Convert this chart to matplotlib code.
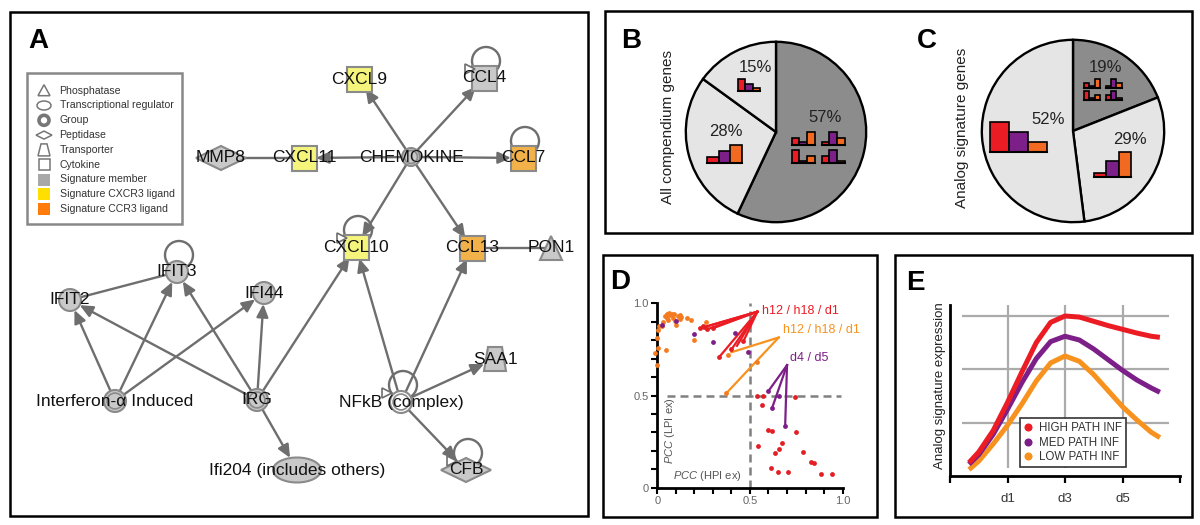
import matplotlib.pyplot as plt
from matplotlib.patches import Rectangle, Circle, Ellipse, Polygon, FancyArrowPatch
from matplotlib.lines import Line2D

plt.rcParams['font.family'] = ['Liberation Sans', 'DejaVu Sans']
plt.rcParams['mathtext.fontset'] = 'custom'
plt.rcParams['mathtext.rm'] = 'Liberation Sans'
plt.rcParams['mathtext.it'] = 'Liberation Sans:italic'

RED = '#EC1C24'
PURPLE = '#7D1F88'
ORANGE = '#F7921E'
ORANGE_PT = '#F47B20'
DARK = '#8C8C8C'
LIGHT = '#E5E5E5'

# ---------------- panel A : network (positions in pixels) ----------------
node_names = ['CHEMOKINE', 'CXCL9', 'CCL4', 'MMP8', 'CXCL11', 'CCL7', 'CXCL10', 'CCL13', 'PON1',
              'IFIT3', 'IFIT2', 'IFI44', 'Interferon-α Induced', 'IRG', 'NFkB (complex)',
              'SAA1', 'Ifi204 (includes others)', 'CFB']
node_x = [411, 359, 484, 221, 304, 523, 356, 472, 551, 177, 70, 264, 115, 257, 401, 495, 297, 466]
node_y = [157, 79, 78, 158, 158, 158, 247, 248, 248, 272, 300, 293, 401, 400, 402, 359, 470, 470]
node_shape = ['group', 'square', 'square', 'diamond', 'square', 'square', 'square', 'square', 'triangle',
              'circle', 'circle', 'circle', 'group', 'group', 'group', 'trapezoid', 'ellipse', 'diamond']
node_fill = ['grey', 'yellow', 'grey', 'grey', 'yellow', 'orange', 'yellow', 'orange', 'grey',
             'grey', 'grey', 'grey', 'grey', 'grey', 'white', 'grey', 'grey', 'grey']
node_size = [9, 12, 12, 14, 12, 12, 12, 12, 12, 11, 11, 11, 11, 11, 11, 12, 14, 14]

edge_src = ['CHEMOKINE', 'CHEMOKINE', 'CHEMOKINE', 'CHEMOKINE', 'CHEMOKINE', 'CHEMOKINE',
            'CXCL11', 'CCL13', 'IFIT3',
            'Interferon-α Induced', 'Interferon-α Induced', 'Interferon-α Induced',
            'IRG', 'IRG', 'IRG', 'IRG', 'IRG',
            'NFkB (complex)', 'NFkB (complex)', 'NFkB (complex)', 'NFkB (complex)']
edge_dst = ['CXCL9', 'CCL4', 'CXCL11', 'CCL7', 'CXCL10', 'CCL13',
            'MMP8', 'PON1', 'IFIT2',
            'IFIT2', 'IFIT3', 'IFI44',
            'IFIT2', 'IFIT3', 'IFI44', 'CXCL10', 'Ifi204 (includes others)',
            'CXCL10', 'CCL13', 'SAA1', 'CFB']
edge_arrow = [1, 1, 1, 1, 1, 1, 0, 0, 0, 1, 1, 1, 1, 1, 1, 1, 1, 1, 1, 1, 1]

loop_nodes = ['CCL4', 'CCL7', 'CXCL10', 'IFIT3', 'NFkB (complex)', 'CFB']
loop_open_head = [1, 0, 1, 0, 1, 1]

legend_a_labels = ['Phosphatase', 'Transcriptional regulator', 'Group', 'Peptidase', 'Transporter',
                   'Cytokine', 'Signature member', 'Signature CXCR3 ligand', 'Signature CCR3 ligand']
legend_a_symbols = ['triangle', 'ellipse', 'ring', 'diamond', 'trapezoid', 'square',
                    'grey_box', 'yellow_box', 'orange_box']

# ---------------- panels B / C : pies ----------------
pie_b_values = [57, 28, 15]
pie_b_colors = [DARK, LIGHT, LIGHT]
pie_b_labels = ['57%', '28%', '15%']
pie_c_values = [19, 29, 52]
pie_c_colors = [DARK, LIGHT, LIGHT]
pie_c_labels = ['19%', '29%', '52%']

# mini bar icons: relative bar heights (red, purple, orange)
icon_falling = [1.0, 0.6, 0.25]
icon_rising = [0.33, 0.67, 1.0]
icon_big_falling = [1.0, 0.67, 0.33]
icon_big_rising = [0.16, 0.64, 1.0]
icon_mixed = [[0.55, 0.2, 1.0], [0.2, 1.0, 0.55], [1.0, 0.2, 0.55], [0.55, 1.0, 0.2]]

# ---------------- panel D : scatter ----------------
orange_x = [-0.01, 0.0, 0.005, 0.0, 0.005, 0.01, 0.045, 0.03, 0.04, 0.05, 0.055, 0.065, 0.07, 0.08,
            0.085, 0.09, 0.095, 0.1, 0.11, 0.12, 0.125, 0.13, 0.16, 0.18, 0.2, 0.265, 0.38, 0.372,
            0.54, 0.06, 0.025]
orange_y = [0.73, 0.665, 0.76, 0.815, 0.855, 0.875, 0.745, 0.9, 0.93, 0.945, 0.92, 0.95, 0.935, 0.945,
            0.92, 0.94, 0.905, 0.885, 0.93, 0.935, 0.915, 0.925, 0.92, 0.91, 0.8, 0.9, 0.72, 0.512,
            0.68, 0.91, 0.88]
purple_x = [0.025, 0.1, 0.2, 0.3, 0.42, 0.49, 0.6, 0.62, 0.69, 0.655]
purple_y = [0.885, 0.905, 0.835, 0.79, 0.84, 0.735, 0.525, 0.434, 0.336, 0.5]
red_x = [0.23, 0.25, 0.27, 0.3, 0.245, 0.335, 0.40, 0.465, 0.54, 0.572, 0.563, 0.743, 0.545, 0.599,
         0.617, 0.635, 0.658, 0.671, 0.748, 0.788, 0.827, 0.845, 0.613, 0.65, 0.703, 0.881, 0.94]
red_y = [0.865, 0.87, 0.86, 0.865, 0.875, 0.71, 0.75, 0.795, 0.5, 0.5, 0.448, 0.49, 0.226, 0.313,
         0.307, 0.19, 0.21, 0.244, 0.304, 0.192, 0.141, 0.132, 0.105, 0.087, 0.087, 0.072, 0.072]

red_hub = (0.54, 0.955)
red_ends_x = [0.23, 0.25, 0.27, 0.3, 0.335, 0.40, 0.43, 0.465]
red_ends_y = [0.865, 0.87, 0.86, 0.865, 0.71, 0.75, 0.77, 0.795]
orange_hub = (0.655, 0.815)
orange_ends_x = [0.40, 0.372]
orange_ends_y = [0.735, 0.512]
purple_hub = (0.70, 0.665)
purple_ends_x = [0.6, 0.62, 0.69]
purple_ends_y = [0.525, 0.434, 0.336]

# ---------------- panel E : curves ----------------
days = [-0.34, 0, 0.5, 1, 1.5, 2, 2.5, 3, 3.5, 4, 4.5, 5, 5.5, 6, 6.3]
high = [0.25, 0.45, 0.85, 1.38, 1.95, 2.5, 2.88, 3.0, 2.98, 2.9, 2.82, 2.75, 2.68, 2.62, 2.6]
med = [0.22, 0.4, 0.78, 1.25, 1.75, 2.2, 2.52, 2.62, 2.55, 2.38, 2.18, 1.98, 1.8, 1.65, 1.57]
low = [0.12, 0.28, 0.6, 0.95, 1.35, 1.78, 2.12, 2.25, 2.15, 1.9, 1.6, 1.3, 1.05, 0.82, 0.72]
e_tick_pos = [-1, 1, 3, 5, 7]
e_tick_labels = ['', 'd1', 'd3', 'd5', '']


fig = plt.figure(figsize=(12, 5.25), dpi=100)


def px_axes(x0, y0, x1, y1, **kw):
    return fig.add_axes([x0 / 1200, 1 - y1 / 525, (x1 - x0) / 1200, (y1 - y0) / 525], **kw)


# whole-figure axes in pixel units for the network
base = fig.add_axes([0, 0, 1, 1])
base.set_xlim(0, 1200)
base.set_ylim(525, 0)
base.axis('off')

fills = {'grey': '#C9C9C9', 'yellow': '#F5F57C', 'orange': '#F2B249', 'white': 'white'}
EDGE = '#8A8A8A'
LINE = '#6E6E6E'
pos = {n: (x, y) for n, x, y in zip(node_names, node_x, node_y)}
size = dict(zip(node_names, node_size))

# edges
for s, d, a in zip(edge_src, edge_dst, edge_arrow):
    style = '-|>,head_length=0.55,head_width=0.25' if a else '-'
    arr = FancyArrowPatch(pos[s], pos[d], arrowstyle=style, mutation_scale=14, color=LINE,
                          lw=1.7, shrinkA=size[s] * 0.72, shrinkB=size[d] * 0.72 if a else 0,
                          zorder=1)
    base.add_patch(arr)

# self loops
for n, head in zip(loop_nodes, loop_open_head):
    x, y = pos[n]
    cx, cy, r = x + 2, y - 17, 14
    base.add_patch(Circle((cx, cy), r, fill=False, ec=LINE, lw=1.7, zorder=1))
    if head:
        lx = cx - r
        base.add_patch(Polygon([(lx - 7, cy + 3), (lx - 7, cy + 13), (lx + 3, cy + 8)],
                               closed=True, fc='white', ec=LINE, lw=1.2, zorder=2.5))

# nodes
for n, x, y, shp, f in zip(node_names, node_x, node_y, node_shape, node_fill):
    fc = fills[f]
    kw = dict(fc=fc, ec=EDGE, lw=1.5, zorder=2)
    if shp == 'square':
        base.add_patch(Rectangle((x - 12.5, y - 12.5), 25, 25, **kw))
    elif shp == 'circle':
        base.add_patch(Circle((x, y), 11, **kw))
    elif shp == 'group':
        r = size[n]
        base.add_patch(Circle((x, y), r, **kw))
        base.add_patch(Circle((x, y), r * 0.72, fill=False, ec=EDGE, lw=1.2, zorder=2))
    elif shp == 'diamond':
        base.add_patch(Polygon([(x - 25, y), (x, y - 12), (x + 25, y), (x, y + 12)], **kw))
    elif shp == 'triangle':
        base.add_patch(Polygon([(x - 11, y + 12), (x, y - 12), (x + 11, y + 12)], **kw))
    elif shp == 'trapezoid':
        base.add_patch(Polygon([(x - 11, y + 12), (x - 7, y - 12), (x + 7, y - 12), (x + 11, y + 12)], **kw))
    elif shp == 'ellipse':
        base.add_patch(Ellipse((x, y), 48, 25, **kw))
    base.text(x, y, n, ha='center', va='center', fontsize=12.5, color='#111111', zorder=3)

# legend of panel A
base.add_patch(Rectangle((27, 73), 155, 151, fill=False, ec='#888888', lw=1.8, zorder=2))
for i, (lab, sym) in enumerate(zip(legend_a_labels, legend_a_symbols)):
    y = 90.7 + i * 14.8
    x = 44
    kw = dict(fc='white', ec='#777777', lw=1.1, zorder=3)
    if sym == 'triangle':
        base.add_patch(Polygon([(x - 6, y + 5), (x, y - 6), (x + 6, y + 5)], **kw))
    elif sym == 'ellipse':
        base.add_patch(Ellipse((x, y), 14, 9, **kw))
    elif sym == 'ring':
        base.add_patch(Circle((x, y), 5, fc='white', ec='#777777', lw=2.6, zorder=3))
    elif sym == 'diamond':
        base.add_patch(Polygon([(x - 8, y), (x, y - 4), (x + 8, y), (x, y + 4)], **kw))
    elif sym == 'trapezoid':
        base.add_patch(Polygon([(x - 6, y + 6), (x - 3, y - 6), (x + 3, y - 6), (x + 6, y + 6)], **kw))
    elif sym == 'square':
        base.add_patch(Rectangle((x - 5.5, y - 5.5), 11, 11, **kw))
    else:
        c = {'grey_box': '#A8A8A8', 'yellow_box': '#FFDF00', 'orange_box': '#FF7B0A'}[sym]
        base.add_patch(Rectangle((x - 6, y - 6), 12, 12, fc=c, ec='none', zorder=3))
    base.text(59.5, y, lab, ha='left', va='center', fontsize=7.6, color='#333333', zorder=3)

# ---------------- pies ----------------
axb = px_axes(684, 40, 868, 224)
axb.pie(pie_b_values, colors=pie_b_colors, startangle=90, counterclock=False,
        wedgeprops=dict(edgecolor='black', linewidth=1.7))
axb.set_xlim(-1.02, 1.02)
axb.set_ylim(-1.02, 1.02)

axc = px_axes(980, 38, 1166, 224)
axc.pie(pie_c_values, colors=pie_c_colors, startangle=90, counterclock=False,
        wedgeprops=dict(edgecolor='black', linewidth=1.7))
axc.set_xlim(-1.02, 1.02)
axc.set_ylim(-1.02, 1.02)

# ---------------- panel D ----------------
axd = px_axes(648.0, 294.2, 851.9, 496.9)
axd.set_xlim(-0.05, 1.05)
axd.set_ylim(-0.05, 1.05)
axd.patch.set_alpha(0)
for s in ['top', 'right']:
    axd.spines[s].set_visible(False)
axd.spines['left'].set_position(('data', 0))
axd.spines['left'].set_bounds(0, 1)
axd.spines['bottom'].set_position(('data', 0))
axd.spines['bottom'].set_bounds(0, 1)
for s in ['left', 'bottom']:
    axd.spines[s].set_linewidth(2)
axd.set_xticks([0, 0.5, 1.0])
axd.set_xticklabels(['0', '0.5', '1.0'])
axd.set_yticks([0, 0.5, 1.0])
axd.set_yticklabels(['0', '0.5', '1.0'])
minor = [0.1, 0.2, 0.3, 0.4, 0.6, 0.7, 0.8, 0.9]
axd.set_xticks(minor, minor=True)
axd.set_yticks(minor, minor=True)
axd.tick_params(which='both', direction='out', length=4, width=1.5, labelsize=8, labelcolor='#666666',
                pad=2)
axd.plot([0.05, 0.99], [0.5, 0.5], color='#808080', lw=1.8, dashes=(3.2, 2), zorder=1)
axd.plot([0.5, 0.5], [0.0, 1.0], color='#808080', lw=1.8, dashes=(3.2, 2), zorder=1)
for ex, ey in zip(red_ends_x, red_ends_y):
    axd.plot([red_hub[0], ex], [red_hub[1], ey], color=RED, lw=1.6, zorder=2)
for ex, ey in zip(orange_ends_x, orange_ends_y):
    axd.plot([orange_hub[0], ex], [orange_hub[1], ey], color=ORANGE, lw=1.6, zorder=2)
for ex, ey in zip(purple_ends_x, purple_ends_y):
    axd.plot([purple_hub[0], ex], [purple_hub[1], ey], color=PURPLE, lw=1.6, zorder=2)
axd.scatter(orange_x, orange_y, s=12, color=ORANGE_PT, lw=0, zorder=3, clip_on=False)
axd.scatter(red_x, red_y, s=12, color='#E31E24', lw=0, zorder=3, clip_on=False)
axd.scatter(purple_x, purple_y, s=12, color=PURPLE, lw=0, zorder=3, clip_on=False)
axd.text(0.565, 0.958, 'h12 / h18 / d1', color=RED, fontsize=9, va='center', ha='left')
axd.text(0.678, 0.855, 'h12 / h18 / d1', color=ORANGE, fontsize=9, va='center', ha='left', clip_on=False)
axd.text(0.716, 0.704, 'd4 / d5', color=PURPLE, fontsize=9, va='center', ha='left')
axd.text(0.085, 0.063, r'$\mathit{PCC}$ (HPI ex)', color='#555555', fontsize=8, va='center', ha='left')
axd.text(0.07, 0.31, r'$\mathit{PCC}$ (LPI ex)', color='#555555', fontsize=8, va='center', ha='center',
         rotation=90)

# ---------------- panel E ----------------
axe = px_axes(944.25, 300, 1185.75, 484)
axe.set_xlim(-1.2, 7.2)
axe.set_ylim(-0.15, 3.3)
axe.patch.set_alpha(0)
for s in ['top', 'right']:
    axe.spines[s].set_visible(False)
axe.spines['left'].set_position(('data', -1))
axe.spines['left'].set_bounds(0, 3.2)
axe.spines['bottom'].set_position(('data', 0))
axe.spines['bottom'].set_bounds(-1, 7)
for s in ['left', 'bottom']:
    axe.spines[s].set_linewidth(2)
axe.set_yticks([])
axe.set_xticks(e_tick_pos)
axe.set_xticklabels(e_tick_labels)
axe.tick_params(axis='x', direction='out', length=5, width=1.6, labelsize=9.5, labelcolor='#333333', pad=7)
axe.vlines([1, 3, 5], 0.15, 3.2, colors='#ABABAB', lw=1.6, zorder=1)
axe.hlines([1, 2, 3], -0.6, 6.6, colors='#ABABAB', lw=1.6, zorder=1)
axe.plot(days, low, color=ORANGE, lw=3.6, solid_capstyle='butt', solid_joinstyle='round', zorder=2)
axe.plot(days, med, color=PURPLE, lw=3.6, solid_capstyle='butt', solid_joinstyle='round', zorder=2)
axe.plot(days, high, color=RED, lw=3.6, solid_capstyle='butt', solid_joinstyle='round', zorder=2)
handles = [Line2D([], [], ls='', marker='o', markersize=4.8, color=c) for c in (RED, PURPLE, ORANGE)]
leg = axe.legend(handles, ['HIGH PATH INF', 'MED PATH INF', 'LOW PATH INF'], loc='lower left',
                 bbox_to_anchor=(0.313, 0.093), borderaxespad=0, fontsize=8.3, fancybox=False,
                 framealpha=1, edgecolor='#333333', handlelength=0.8, handletextpad=0.5,
                 borderpad=0.35, labelspacing=0.2)
leg.get_frame().set_linewidth(1.2)
for t in leg.get_texts():
    t.set_color('#333333')

# ---------------- overlay: frames, letters, pie texts, icons ----------------
top = fig.add_axes([0, 0, 1, 1], zorder=10, label='overlay')
top.set_xlim(0, 1200)
top.set_ylim(525, 0)
top.axis('off')

for x0, y0, x1, y1 in [(10, 12, 588, 516), (605, 11, 1192, 233), (603, 255, 877, 517), (895, 255, 1192, 517)]:
    top.add_patch(Rectangle((x0, y0), x1 - x0, y1 - y0, fill=False, ec='black', lw=1.8))

for lab, x, y in [('A', 38, 41), ('B', 631, 41), ('C', 927, 41), ('D', 620, 282), ('E', 915, 283)]:
    top.text(x, y, lab, fontsize=20, fontweight='bold', ha='center', va='center')

for lab, x, y in zip(pie_b_labels, [825, 726, 755], [118, 131, 68]):
    top.text(x, y, lab, fontsize=12, ha='center', va='center', color='#222222')
for lab, x, y in zip(pie_c_labels, [1105, 1130, 1048], [67, 140, 119]):
    top.text(x, y, lab, fontsize=12, ha='center', va='center', color='#222222')

top.text(668, 127, 'All compendium genes', rotation=90, fontsize=11, ha='center', va='center', color='#222222')
top.text(962, 128, 'Analog signature genes', rotation=90, fontsize=11, ha='center', va='center', color='#222222')
top.text(940, 386, 'Analog signature expression', rotation=90, fontsize=9.5, ha='center', va='center',
         color='#222222')


def draw_icon(x0, y0, w, h, heights):
    bw = w / 3
    lefts = [x0, x0 + bw, x0 + 2 * bw]
    top.bar(lefts, [-h * v for v in heights], width=bw, bottom=y0, align='edge',
            color=[RED, PURPLE, '#F26A21'], edgecolor='black', linewidth=1.2, zorder=11)
    top.plot([x0, x0 + w], [y0, y0], color='black', lw=1.5, zorder=12)


draw_icon(737.7, 91, 22.3, 12, icon_falling)
draw_icon(707, 163, 35, 18, icon_rising)
for (ix, iy), hts in zip([(791.7, 145), (821.7, 145), (791.7, 163.3), (821.7, 163.3)], icon_mixed):
    draw_icon(ix, iy, 23, 13, hts)
draw_icon(990, 151.7, 57.3, 30, icon_big_falling)
draw_icon(1094.3, 177.3, 36.4, 25, icon_big_rising)
for (ix, iy), hts in zip([(1084, 88), (1105.7, 88), (1084, 100), (1105.7, 100)], icon_mixed):
    draw_icon(ix, iy, 16, 9, hts)

fig.savefig('out.png', dpi=100)
